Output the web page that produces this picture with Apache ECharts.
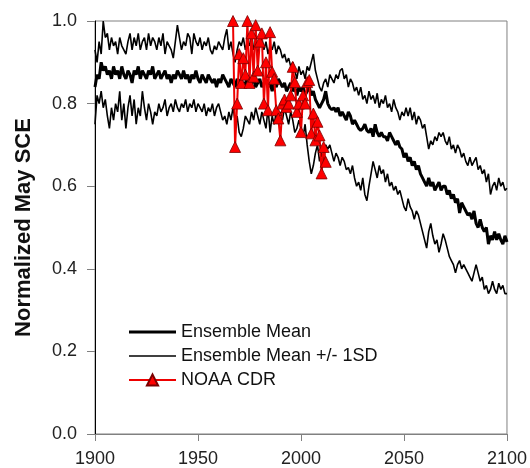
<!DOCTYPE html>
<html>
<head>
<meta charset="utf-8">
<script src="https://cdn.jsdelivr.net/npm/echarts@6/dist/echarts.min.js"></script>
<style>
html,body{margin:0;padding:0;background:#fff;}
#c{width:530px;height:468px;}
</style>
</head>
<body>
<div id="c"></div>
<script>
const START_YEAR = 1900;
const X_TICKS = [1900, 1950, 2000, 2050, 2100];
const Y_TICKS = [0.0, 0.2, 0.4, 0.6, 0.8, 1.0];

const meanPlus = [
  0.93,0.90,0.95,0.92,1.00,0.96,0.97,0.93,0.96,0.94,
  0.95,0.92,0.96,0.94,0.93,0.92,0.95,0.97,0.93,0.96,
  0.94,0.97,0.93,0.95,0.96,0.93,0.97,0.94,0.96,0.95,
  0.93,0.96,0.94,0.97,0.92,0.95,0.94,0.93,0.91,0.95,
  0.99,0.96,0.93,0.95,0.94,0.97,0.96,0.92,0.97,0.95,
  0.94,0.96,0.93,0.95,0.94,0.96,0.93,0.92,0.94,0.93,
  0.95,0.94,0.93,0.96,0.98,0.93,0.95,0.92,0.90,0.93,
  0.95,0.94,0.96,0.93,0.95,0.94,0.97,0.93,0.95,0.92,
  0.94,0.96,0.93,0.95,0.92,0.94,0.93,0.95,0.92,0.94,
  0.93,0.91,0.92,0.90,0.91,0.89,0.90,0.88,0.86,0.89,
  0.87,0.88,0.86,0.89,0.88,0.90,0.92,0.88,0.86,0.84,
  0.83,0.85,0.86,0.84,0.87,0.86,0.85,0.87,0.86,0.88,
  0.885,0.86,0.87,0.84,0.86,0.85,0.83,0.84,0.82,0.84,
  0.81,0.82,0.80,0.83,0.81,0.82,0.80,0.825,0.79,0.81,
  0.80,0.82,0.79,0.80,0.78,0.81,0.79,0.78,0.76,0.78,
  0.77,0.79,0.77,0.79,0.76,0.78,0.75,0.77,0.76,0.74,
  0.75,0.72,0.69,0.71,0.70,0.72,0.71,0.73,0.72,0.73,
  0.71,0.70,0.72,0.69,0.70,0.68,0.70,0.69,0.67,0.68,
  0.66,0.65,0.67,0.65,0.66,0.67,0.64,0.65,0.63,0.64,
  0.61,0.63,0.58,0.60,0.61,0.59,0.62,0.60,0.61,0.59,
  0.595
];

const ensembleMean = [
  0.84,0.87,0.86,0.90,0.88,0.89,0.87,0.88,0.86,0.89,
  0.87,0.88,0.86,0.89,0.87,0.86,0.88,0.87,0.85,0.88,
  0.87,0.89,0.86,0.88,0.87,0.86,0.88,0.87,0.89,0.86,
  0.87,0.88,0.86,0.87,0.88,0.86,0.87,0.85,0.87,0.86,
  0.88,0.87,0.86,0.88,0.86,0.87,0.85,0.87,0.86,0.88,
  0.86,0.85,0.87,0.86,0.85,0.87,0.86,0.85,0.86,0.84,
  0.86,0.85,0.87,0.86,0.85,0.84,0.86,0.85,0.84,0.86,
  0.85,0.86,0.84,0.85,0.86,0.84,0.85,0.86,0.84,0.85,
  0.86,0.84,0.85,0.86,0.84,0.85,0.83,0.85,0.84,0.86,
  0.85,0.84,0.85,0.83,0.84,0.85,0.83,0.84,0.82,0.84,
  0.83,0.84,0.82,0.83,0.84,0.82,0.83,0.81,0.80,0.79,
  0.80,0.81,0.83,0.80,0.79,0.785,0.79,0.78,0.79,0.77,
  0.78,0.77,0.76,0.78,0.77,0.75,0.76,0.75,0.74,0.735,
  0.74,0.75,0.735,0.73,0.74,0.72,0.75,0.73,0.72,0.73,
  0.72,0.72,0.71,0.73,0.72,0.71,0.70,0.71,0.695,0.69,
  0.67,0.68,0.66,0.67,0.65,0.66,0.64,0.65,0.63,0.62,
  0.61,0.60,0.62,0.60,0.61,0.59,0.60,0.61,0.59,0.60,
  0.60,0.58,0.59,0.57,0.58,0.56,0.57,0.535,0.56,0.55,
  0.54,0.53,0.535,0.52,0.54,0.51,0.50,0.52,0.50,0.49,
  0.50,0.46,0.48,0.47,0.49,0.47,0.485,0.47,0.46,0.48,
  0.465
];

const meanMinus = [
  0.75,0.82,0.80,0.83,0.79,0.81,0.77,0.74,0.79,0.76,
  0.80,0.78,0.83,0.76,0.80,0.74,0.79,0.82,0.77,0.81,
  0.75,0.79,0.77,0.83,0.79,0.76,0.80,0.78,0.75,0.78,
  0.77,0.80,0.78,0.79,0.81,0.77,0.79,0.80,0.78,0.81,
  0.79,0.78,0.80,0.79,0.81,0.78,0.80,0.79,0.81,0.78,
  0.80,0.79,0.78,0.80,0.77,0.79,0.78,0.80,0.77,0.79,
  0.80,0.78,0.76,0.77,0.75,0.78,0.76,0.79,0.76,0.77,
  0.73,0.72,0.74,0.77,0.76,0.75,0.78,0.76,0.79,0.77,
  0.75,0.78,0.76,0.74,0.79,0.73,0.77,0.75,0.78,0.76,
  0.78,0.76,0.79,0.77,0.75,0.78,0.76,0.73,0.74,0.76,
  0.74,0.72,0.75,0.70,0.66,0.63,0.65,0.68,0.70,0.66,
  0.68,0.66,0.70,0.69,0.70,0.68,0.66,0.68,0.67,0.65,
  0.67,0.66,0.64,0.645,0.63,0.65,0.62,0.60,0.61,0.59,
  0.62,0.58,0.565,0.60,0.63,0.66,0.64,0.62,0.65,0.63,
  0.64,0.61,0.63,0.60,0.61,0.59,0.60,0.58,0.59,0.57,
  0.55,0.54,0.57,0.55,0.54,0.52,0.54,0.53,0.51,0.49,
  0.47,0.45,0.49,0.51,0.48,0.46,0.47,0.44,0.46,0.485,
  0.47,0.45,0.43,0.42,0.41,0.39,0.41,0.42,0.40,0.41,
  0.40,0.39,0.38,0.37,0.39,0.41,0.39,0.37,0.38,0.35,
  0.36,0.34,0.35,0.37,0.35,0.34,0.365,0.35,0.36,0.34,
  0.34
];

const NOAA_START = 1967;
const noaaCdr = [
  1.00,0.695,0.80,0.92,0.85,0.91,0.87,1.00,0.85,0.97,
  0.865,0.99,0.88,0.95,0.97,0.80,0.90,0.784,0.973,0.877,
  0.86,0.784,0.764,0.711,0.80,0.81,0.792,0.80,0.82,0.889,
  0.852,0.78,0.80,0.731,0.82,0.80,0.852,0.857,0.728,0.776,
  0.711,0.756,0.723,0.631,0.695,0.659
];

const NAME_MEAN = 'Ensemble Mean';
const NAME_SD = 'Ensemble Mean +/- 1SD';
const NAME_NOAA = 'NOAA CDR';

const toPairs = (arr, start) => arr.map((v, i) => [start + i, v]);

const FONT = '"Liberation Sans", Arial, sans-serif';
const chart = echarts.init(document.getElementById('c'), null, {renderer: 'canvas'});
chart.setOption({
  backgroundColor: '#ffffff',
  animation: false,
  grid: {left: 95, right: 22, top: 21, bottom: 34, show: true, borderColor: '#808080', borderWidth: 1, backgroundColor: 'transparent'},
  legend: {
    data: [
      {name: NAME_MEAN, icon: 'path://M0 0 H47 V3 H0 Z'},
      {name: NAME_SD, icon: 'path://M0 0 H47 V1.6 H0 Z'},
      {name: NAME_NOAA}
    ],
    orient: 'vertical',
    left: 123,
    top: 318,
    itemWidth: 47,
    itemHeight: 14,
    itemGap: 6,
    symbolKeepAspect: true,
    textStyle: {fontFamily: FONT, fontSize: 18, color: '#111'}
  },
  xAxis: {
    type: 'value',
    min: X_TICKS[0],
    max: X_TICKS[X_TICKS.length - 1],
    interval: 50,
    axisLine: {show: true, lineStyle: {color: '#808080', width: 1}},
    axisTick: {show: true, length: 7, lineStyle: {color: '#808080'}},
    axisLabel: {fontFamily: FONT, fontSize: 18, color: '#222', margin: 16, formatter: v => String(v)},
    splitLine: {show: false}
  },
  yAxis: {
    type: 'value',
    min: Y_TICKS[0],
    max: Y_TICKS[Y_TICKS.length - 1],
    interval: 0.2,
    name: 'Normalized May SCE',
    nameLocation: 'middle',
    nameGap: 60,
    nameTextStyle: {fontFamily: FONT, fontSize: 22, fontWeight: 'bold', color: '#111'},
    axisLine: {show: true, lineStyle: {color: '#000', width: 1}},
    axisTick: {show: true, length: 8, lineStyle: {color: '#808080'}},
    axisLabel: {fontFamily: FONT, fontSize: 18, color: '#222', margin: 18, formatter: v => v.toFixed(1)},
    splitLine: {show: false}
  },
  series: [
    {name: NAME_SD, type: 'line', data: toPairs(meanPlus, START_YEAR), showSymbol: false, symbol: 'none',
     lineStyle: {color: '#000', width: 1.6}, itemStyle: {color: '#000'}, z: 2},
    {name: NAME_SD, type: 'line', data: toPairs(meanMinus, START_YEAR), showSymbol: false, symbol: 'none',
     lineStyle: {color: '#000', width: 1.6}, itemStyle: {color: '#000'}, z: 2},
    {name: NAME_MEAN, type: 'line', data: toPairs(ensembleMean, START_YEAR), showSymbol: false, symbol: 'none',
     lineStyle: {color: '#000', width: 3}, itemStyle: {color: '#000'}, z: 3},
    {name: NAME_NOAA, type: 'line', data: toPairs(noaaCdr, NOAA_START), symbol: 'triangle', symbolSize: 11, showSymbol: true,
     lineStyle: {color: '#ee0000', width: 2}, itemStyle: {color: '#ff0000', borderColor: '#7a0000', borderWidth: 0.8}, z: 4}
  ]
});
</script>
</body>
</html>
